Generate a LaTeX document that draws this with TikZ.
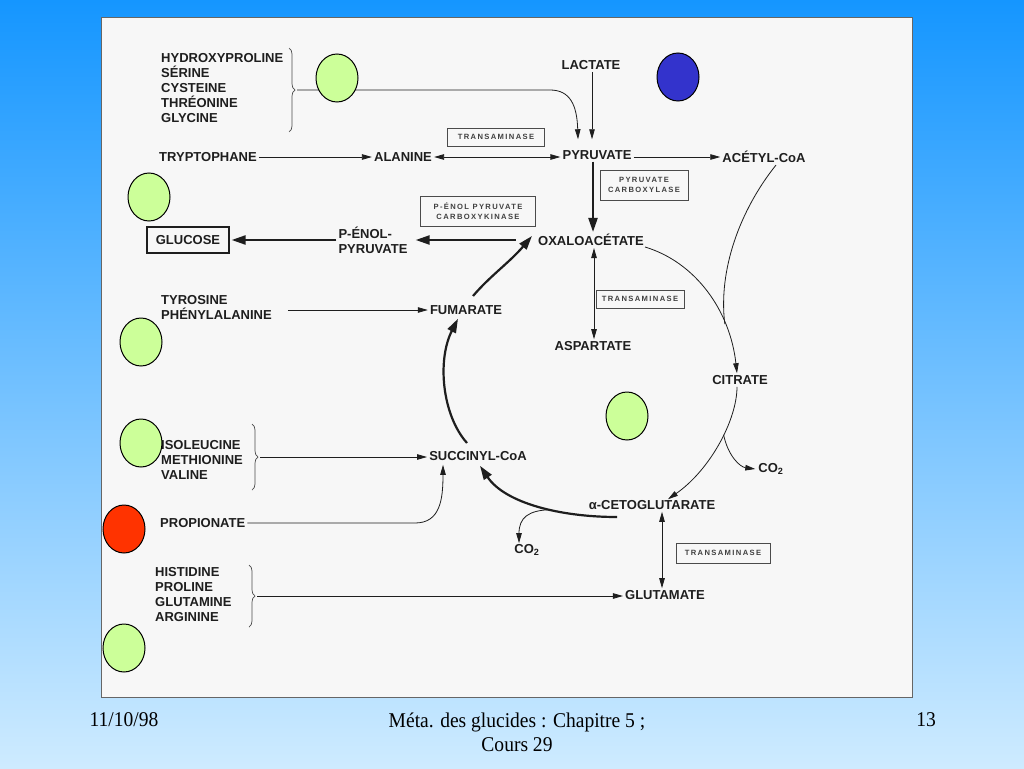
\documentclass[tikz,border=0pt]{standalone}
\usepackage{fontspec}
\setmainfont{Liberation Sans}
\newfontfamily\footfont{Liberation Serif}
\newfontfamily\enzfont[LetterSpace=18]{Liberation Sans}
\usetikzlibrary{arrows.meta,shapes.geometric,decorations.pathreplacing}
\definecolor{bgtop}{RGB}{21,150,255}
\definecolor{bgbot}{RGB}{206,235,255}
\definecolor{ink}{RGB}{30,30,30}
\definecolor{ltgreen}{RGB}{204,255,153}
\definecolor{dkblue}{RGB}{51,51,204}
\definecolor{redorange}{RGB}{255,51,0}
\tikzset{
  lbl/.style={font=\fontsize{13}{15}\selectfont\bfseries, text=ink, inner sep=2pt},
  enz/.style={draw=ink!80, line width=0.6pt, font=\enzfont\fontsize{7.6}{10.5}\selectfont\bfseries, text=ink!85, align=center, inner sep=0pt},
  tarrow/.style={draw=ink, line width=0.8pt, -{Triangle[length=10pt,width=5.5pt]}},
  darrow/.style={draw=ink, line width=0.8pt, {Triangle[length=10pt,width=5.5pt]}-{Triangle[length=10pt,width=5.5pt]}},
  thick arrow/.style={draw=ink, line width=2.2pt, -{Triangle[length=14pt,width=9pt]}},
  bracestyle/.style={draw=ink!80, line width=0.7pt, decorate, decoration={brace, amplitude=6pt}},
  blob/.style={ellipse, draw=black, line width=1pt, minimum width=42pt, minimum height=48pt, inner sep=0pt},
  foot/.style={font=\footfont\fontsize{21}{24}\selectfont, text=black, align=center}
}
\begin{document}
\begin{tikzpicture}[x=1pt,y=-1pt]
\useasboundingbox (0,0) rectangle (1024,768);
\shade[top color=bgtop, bottom color=bgbot] (0,0) rectangle (1024,768);
% panel
\draw[fill=gray!6, draw=black!60, line width=0.8pt] (101,17) rectangle (912,697);

% nodes
\node[lbl, anchor=west, align=left] (hyp) at (159,88) {HYDROXYPROLINE\\SÉRINE\\CYSTEINE\\THRÉONINE\\GLYCINE};
\node[lbl] (lac) at (591,65) {LACTATE};
\node[lbl] (pyr) at (597,155) {PYRUVATE};
\node[lbl] (acc) at (764,157) {ACÉTYL-CoA};
\node[lbl] (ala) at (403,157) {ALANINE};
\node[lbl] (try) at (208,157) {TRYPTOPHANE};
\node[enz, minimum width=97pt, minimum height=18pt] (tr1) at (496,137) {TRANSAMINASE};
\node[enz, minimum width=88pt, minimum height=30pt] (pc) at (644,185) {PYRUVATE\\CARBOXYLASE};
\node[enz, minimum width=115pt, minimum height=30pt] (pepck) at (478,211) {P-ÉNOL PYRUVATE\\CARBOXYKINASE};
\node[lbl, draw=ink, line width=1.2pt, minimum width=82pt, minimum height=26pt] (glu) at (188,240) {GLUCOSE};
\node[lbl, align=left] (pep) at (373,240) {P-ÉNOL-\\PYRUVATE};
\node[lbl] (oaa) at (591,240) {OXALOACÉTATE};
\node[lbl, anchor=west, align=left] (tyr) at (159,307) {TYROSINE\\PHÉNYLALANINE};
\node[lbl] (fum) at (466,310) {FUMARATE};
\node[lbl] (asp) at (593,346) {ASPARTATE};
\node[enz, minimum width=88pt, minimum height=18pt] (tr2) at (640,299) {TRANSAMINASE};
\node[lbl] (cit) at (740,380) {CITRATE};
\node[lbl] (co2a) at (771,469) {CO\textsubscript{2}};
\node[lbl] (akg) at (652,505) {α-CETOGLUTARATE};
\node[lbl] (co2b) at (527,550) {CO\textsubscript{2}};
\node[lbl] (suc) at (478,456) {SUCCINYL-CoA};
\node[lbl, anchor=west, align=left] (iso) at (159,460) {ISOLEUCINE\\METHIONINE\\VALINE};
\node[lbl, anchor=west] (pro) at (158,523) {PROPIONATE};
\node[lbl, anchor=west, align=left] (his) at (153,595) {HISTIDINE\\PROLINE\\GLUTAMINE\\ARGININE};
\node[lbl] (glm) at (665,595) {GLUTAMATE};
\node[enz, minimum width=94pt, minimum height=20pt] (tr3) at (723,553) {TRANSAMINASE};

% braces
\draw[bracestyle] (289,48) -- (289,132);
\coordinate (hypB) at (297,90);
\draw[bracestyle] (252,424) -- (252,490);
\coordinate (isoB) at (260,457);
\draw[bracestyle] (249,565) -- (249,627);
\coordinate (hisB) at (257,596);

% connectors
\draw[tarrow] (hypB) -- (550,90) .. controls (570,90) and (577,105) .. ([xshift=-19pt,yshift=9pt]pyr.north);
\draw[tarrow] (lac.south -| 592,0) -- ([yshift=9pt]pyr.north -| 592,0);
\draw[tarrow] (pyr.east |- 0,157) -- (acc.west |- 0,157);
\draw[darrow] (ala.east) -- (pyr.west |- ala.east);
\draw[tarrow] (try.east) -- (ala.west);
\draw[thick arrow] (pyr.south -| 593,0) -- (oaa.north -| 593,0);
\draw[thick arrow] ([xshift=-20pt]oaa.west) -- ([xshift=6pt]pep.east);
\draw[thick arrow] (pep.west) -- ([xshift=2pt]glu.east);
\draw[tarrow] ([xshift=14pt]tyr.east |- fum) -- (fum.west);
\draw[darrow] (oaa.south -| 594,0) -- (asp.north -| 594,0);
% oxaloacetate -> citrate (acetyl-CoA joins it)
\coordinate (oaaE) at (645,247);
\draw[tarrow] (oaaE) .. controls (695,262) and (730,310) .. ([xshift=-3pt]cit.north) coordinate[pos=0.72] (merge);
\draw[draw=ink, line width=0.8pt] ([xshift=12pt]acc.south) .. controls (740,210) and (718,270) .. (merge);
% citrate -> alpha-KG with CO2 branch
\draw[tarrow] ([xshift=-3pt]cit.south) .. controls (737,420) and (710,470) .. ([xshift=16pt,yshift=-1pt]akg.north) coordinate[pos=0.42] (br1);
\draw[tarrow] (br1) .. controls (728,456) and (740,467) .. ([xshift=-1pt]co2a.west);
% alpha-KG -> succinyl-CoA with CO2 branch
\coordinate (akgS) at (617,517);
\draw[thick arrow] (akgS) .. controls (560,517) and (505,503) .. ([xshift=2pt,yshift=-3pt]suc.south) coordinate[pos=0.4] (br2);
\draw[tarrow] (br2) .. controls (528,510) and (519,518) .. ([xshift=-8pt,yshift=-1pt]co2b.north);
% succinyl-CoA -> fumarate
\coordinate (sucT) at (467,443);
\draw[thick arrow] (sucT) .. controls (442,415) and (437,360) .. ([xshift=-8pt,yshift=-2pt]fum.south);
% fumarate -> oxaloacetate
\coordinate (fumT) at (473,296);
\draw[thick arrow] (fumT) .. controls (490,276) and (510,262) .. ([xshift=-4pt,yshift=4pt]oaa.west);
% amino acids
\draw[tarrow] (isoB) -- (suc.west |- isoB);
\draw[tarrow] (pro.east) -- (415,523) .. controls (440,523) and (443,500) .. ([xshift=-35pt,yshift=-2pt]suc.south);
\draw[tarrow] (hisB) -- (glm.west |- hisB);
\draw[darrow] ([xshift=10pt]akg.south) -- ([xshift=10pt]akg.south |- glm.north);

% coloured blobs
\node[blob, fill=ltgreen] (g1) at (337,78) {};
\node[blob, fill=dkblue] (b1) at (678,77) {};
\node[blob, fill=ltgreen] (g2) at (149,197) {};
\node[blob, fill=ltgreen] (g3) at (141,342) {};
\node[blob, fill=ltgreen] (g4) at (141,443) {};
\node[blob, fill=redorange] (r1) at (124,529) {};
\node[blob, fill=ltgreen] (g5) at (124,648) {};
\node[blob, fill=ltgreen] (g6) at (627,416) {};

% footer
\node[foot] (date) at (124,720) {\scalebox{0.93}[1]{11/10/98}};
\node[foot, anchor=north] (title) at (517,709) {\scalebox{0.93}[1]{Méta. des glucides : Chapitre 5 ;}\\\scalebox{0.93}[1]{Cours 29}};
\node[foot] (num) at (926,720) {\scalebox{0.93}[1]{13}};
\end{tikzpicture}
\end{document}
